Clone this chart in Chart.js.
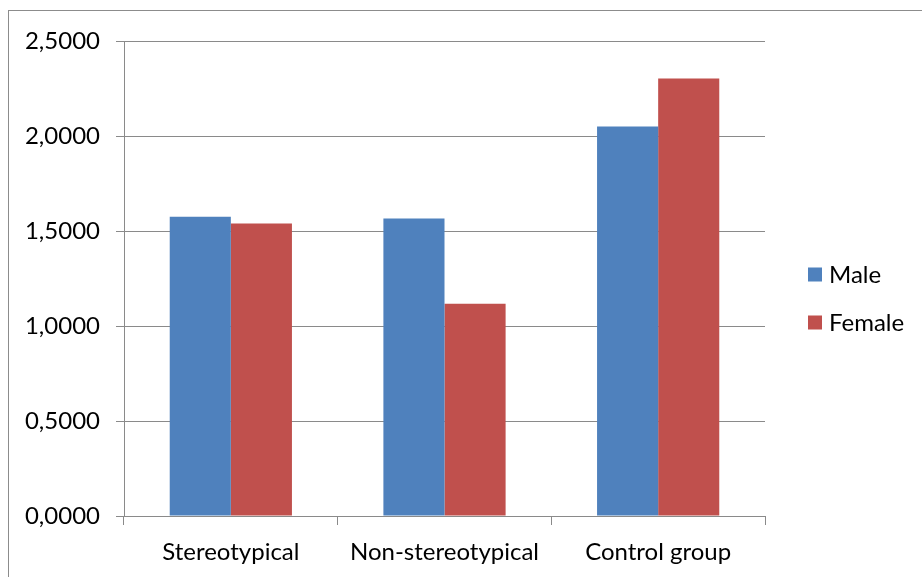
<!DOCTYPE html>
<html>
<head>
<meta charset="utf-8">
<script src="https://cdn.jsdelivr.net/npm/chart.js@4/dist/chart.umd.min.js"></script>
<style>
  html, body { margin: 0; padding: 0; background: #fff; }
  #wrap { width: 922px; height: 577px; }
</style>
</head>
<body>
<div id="wrap"><canvas id="c" width="922" height="577"></canvas></div>
<script>
const categories = ['Stereotypical', 'Non-stereotypical', 'Control group'];
const seriesNames = ['Male', 'Female'];
const maleValues = [1.575, 1.566, 2.050];
const femaleValues = [1.539, 1.117, 2.303];
const seriesColors = ['#4F81BD', '#C0504D'];
const yTicks = [0, 0.5, 1.0, 1.5, 2.0, 2.5];

const FONT = 'Lato, "Open Sans", sans-serif';
const FS = 24;
const GRID = '#8a8a8a';

const framePlugin = {
  id: 'frame',
  beforeDraw(chart) {
    const ctx = chart.ctx;
    ctx.save();
    ctx.fillStyle = '#fff';
    ctx.fillRect(0, 0, chart.width, chart.height);
    ctx.strokeStyle = '#8c8c8c';
    ctx.lineWidth = 1;
    ctx.strokeRect(8.5, 10.5, chart.width + 20, chart.height + 20);
    ctx.restore();
  }
};

const legendPlugin = {
  id: 'sideLegend',
  afterDraw(chart) {
    const ctx = chart.ctx;
    const x = chart.chartArea.right + 43;
    const y0 = chart.height / 2 - 14;
    ctx.save();
    ctx.font = FS + 'px ' + FONT;
    ctx.textBaseline = 'middle';
    ctx.textAlign = 'left';
    chart.data.datasets.forEach((ds, i) => {
      const cy = y0 + i * 48;
      ctx.fillStyle = ds.backgroundColor;
      ctx.fillRect(x, cy - 7, 14, 14);
      ctx.fillStyle = '#000';
      ctx.fillText(ds.label, x + 21, cy + 1);
    });
    ctx.restore();
  }
};

new Chart(document.getElementById('c'), {
  type: 'bar',
  data: {
    labels: categories,
    datasets: [
      { label: seriesNames[0], data: maleValues, backgroundColor: seriesColors[0] },
      { label: seriesNames[1], data: femaleValues, backgroundColor: seriesColors[1] }
    ]
  },
  options: {
    responsive: false,
    animation: false,
    devicePixelRatio: 1,
    layout: { padding: { left: 0, top: 41, right: 157, bottom: 0 } },
    plugins: {
      legend: { display: false },
      tooltip: { enabled: false }
    },
    datasets: {
      bar: { categoryPercentage: 0.572, barPercentage: 1.0, borderWidth: 0 }
    },
    scales: {
      x: {
        grid: { offset: true, drawOnChartArea: false, drawTicks: true, tickLength: 9, color: GRID, lineWidth: 1 },
        border: { display: true, color: GRID, width: 1 },
        ticks: { color: '#000', font: { family: FONT, size: FS }, padding: 13, maxRotation: 0 },
        afterFit(scale) { scale.height = 577 - 516; }
      },
      y: {
        min: 0,
        max: 2.5,
        afterBuildTicks(scale) { scale.ticks = yTicks.map(v => ({ value: v })); },
        grid: { color: GRID, lineWidth: 1, drawTicks: true, tickLength: 8 },
        border: { display: true, color: GRID, width: 1 },
        ticks: {
          color: '#000',
          font: { family: FONT, size: FS },
          padding: 16,
          callback: (v) => Number(v).toFixed(4).replace('.', ',')
        },
        afterFit(scale) { scale.width = 124; }
      }
    }
  },
  plugins: [framePlugin, legendPlugin]
});
</script>
</body>
</html>
